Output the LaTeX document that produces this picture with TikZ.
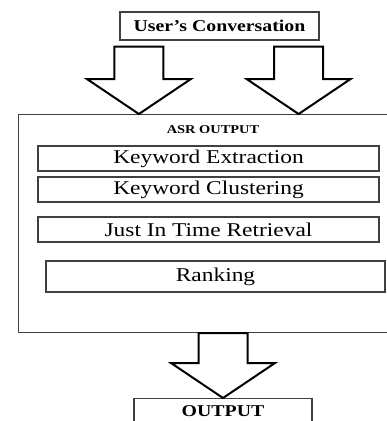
\documentclass[tikz,border=0pt]{standalone}
\usepackage{fontspec}
\setmainfont{Liberation Serif}
\newfontfamily\wideserif[FakeStretch=1.2]{Liberation Serif}
\usetikzlibrary{calc}

\tikzset{
  stagebox/.style={draw=black!75, line width=1.2pt, inner sep=0pt,
    minimum width=341pt, minimum height=25pt,
    font=\wideserif\fontsize{19.5}{19.5}\selectfont},
  titlebox/.style={draw=black!75, line width=1.2pt, inner sep=0pt,
    font=\wideserif\bfseries\fontsize{16.5}{16.5}\selectfont},
  blockarrow/.style={draw=black, line width=2pt, fill=white, line join=miter},
}

% hollow down arrow: #1 top of shaft, #2 tip
\newcommand{\hollowarrow}[2]{%
  \draw[blockarrow] let \p1=(#1), \p2=(#2) in
    (\x1-24.5pt,\y1) -- (\x1+24.5pt,\y1) -- (\x1+24.5pt,\y2+35pt)
    -- (\x1+52pt,\y2+35pt) -- (\x2,\y2) -- (\x1-52pt,\y2+35pt)
    -- (\x1-24.5pt,\y2+35pt) -- cycle;}

\begin{document}
\begin{tikzpicture}[x=1pt,y=-1pt]
\useasboundingbox (0,0) rectangle (387,421);
\clip (0,0) rectangle (387,421);

\node[titlebox, minimum width=199pt, minimum height=28pt] (conv) at (219.5,26) {User’s Conversation};
\node[draw=black!75, line width=1.2pt, inner sep=0pt, minimum width=376pt,
  minimum height=218pt, anchor=north west] (asr) at (18,114) {};
\node[font=\wideserif\bfseries\fontsize{12}{12}\selectfont] (asrtitle) at (213,130) {ASR OUTPUT};
\node[stagebox] (extract) at (208.5,158.5) {Keyword Extraction};
\node[stagebox] (cluster) at (208.5,189.5) {Keyword Clustering};
\node[stagebox] (jit) at (208.5,229.5) {Just In Time Retrieval};
\node[stagebox, minimum width=339pt, minimum height=31pt] (rank) at (215.5,276.5) {Ranking};
\node[titlebox, minimum width=178pt, anchor=north, inner ysep=6pt,
  text height=12pt, text depth=30pt] (out) at (223,398) {OUTPUT};

% arrows
\coordinate (lefttop) at ($(conv.south west)+(19.5,6)$);
\coordinate (righttop) at ($(conv.south east)+(-21,6)$);
\hollowarrow{lefttop}{lefttop |- asr.north}
\hollowarrow{righttop}{righttop |- asr.north}
\hollowarrow{out.north |- asr.south}{out.north}

\end{tikzpicture}
\end{document}
